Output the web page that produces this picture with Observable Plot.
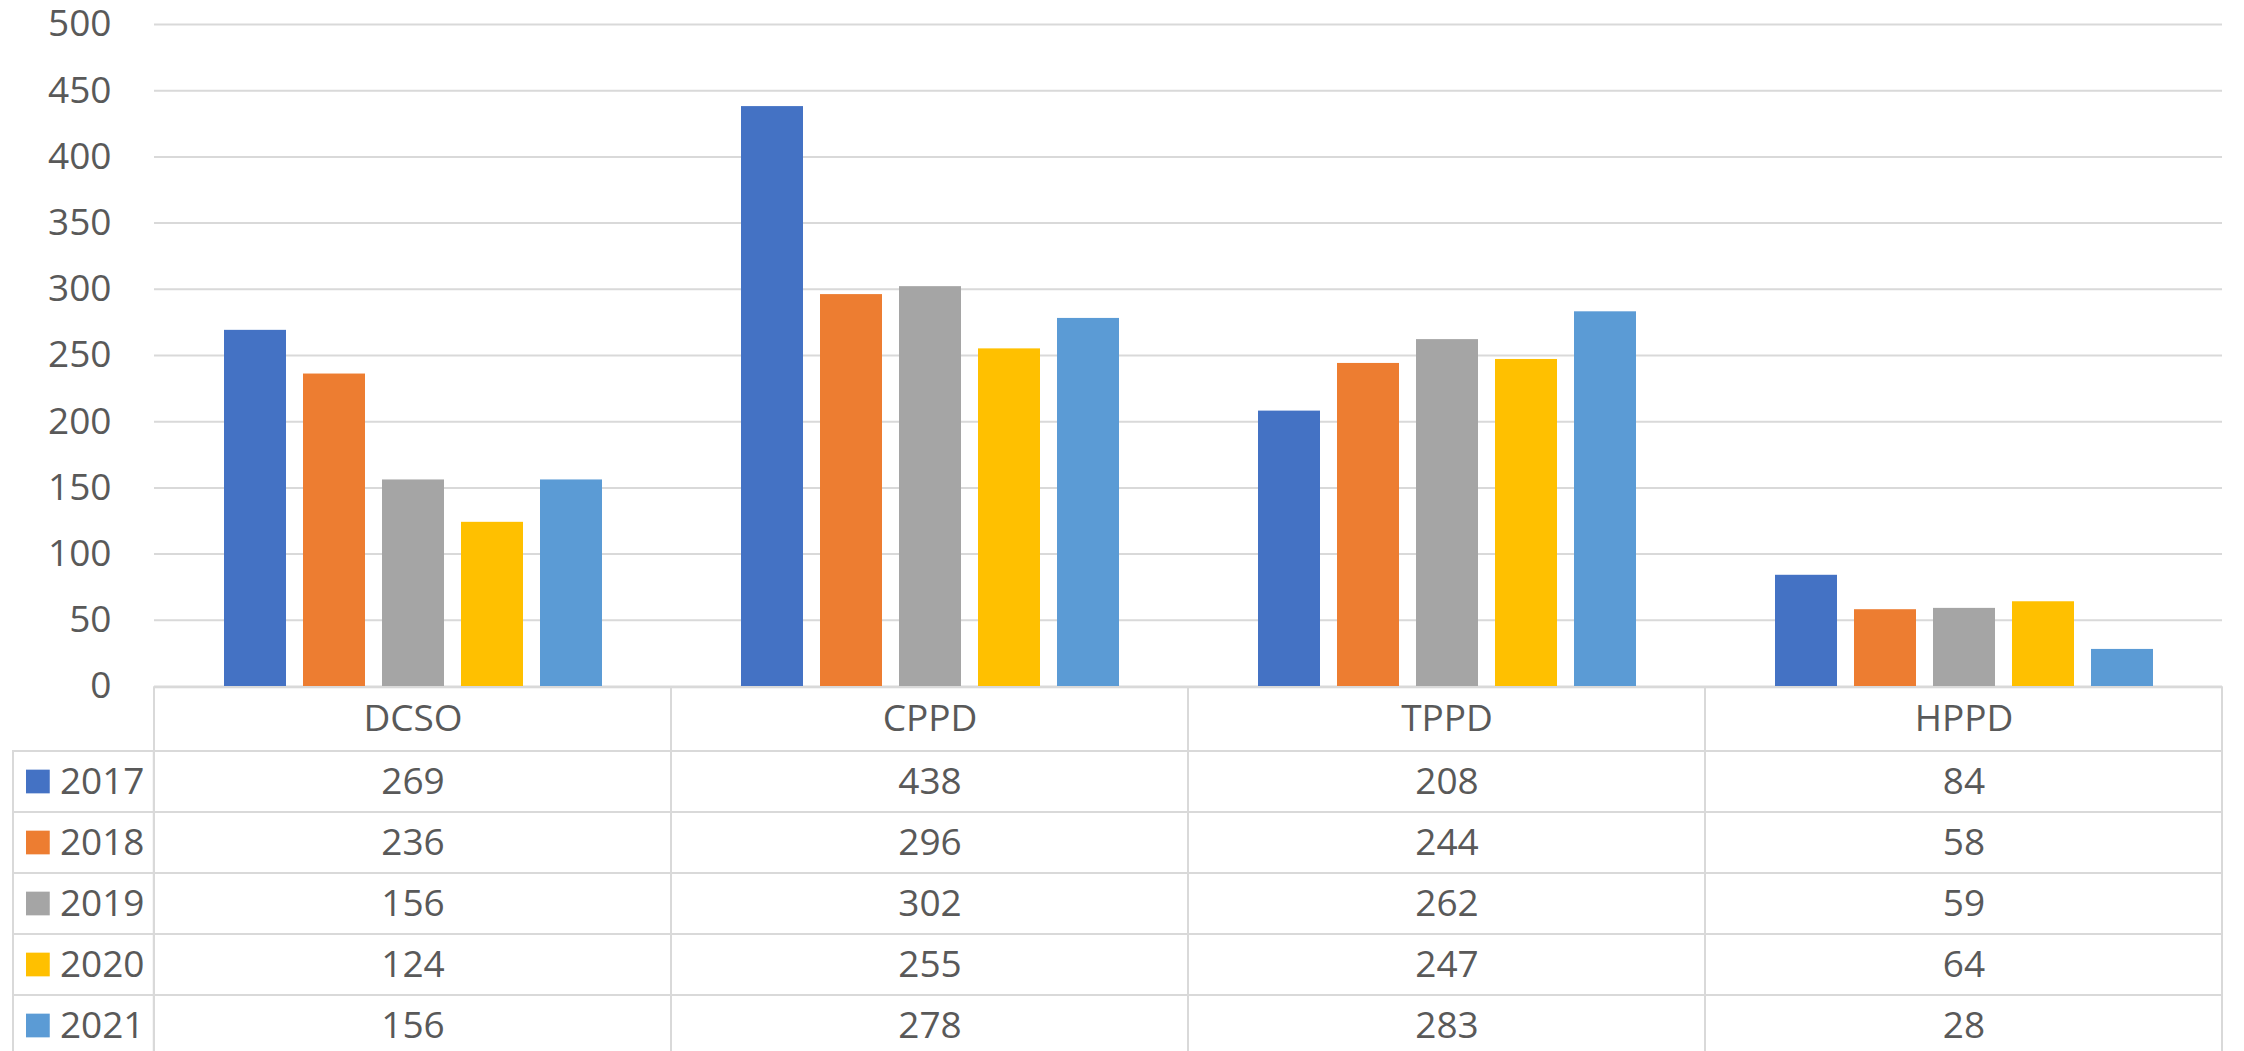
<!DOCTYPE html>
<html><head><meta charset="utf-8">
<script src="https://cdn.jsdelivr.net/npm/d3@7"></script>
<script src="https://cdn.jsdelivr.net/npm/@observablehq/plot@0.6"></script>
<style>
html,body{margin:0;padding:0;background:#fff;overflow:hidden}
#chart svg{display:block;overflow:visible}
</style></head><body><div id="chart"></div>
<script>
const categories = ["DCSO", "CPPD", "TPPD", "HPPD"];
const years = ["2017", "2018", "2019", "2020", "2021"];
const values2017 = [269, 438, 208, 84];
const values2018 = [236, 296, 244, 58];
const values2019 = [156, 302, 262, 59];
const values2020 = [124, 255, 247, 64];
const values2021 = [156, 278, 283, 28];
const yearColors = ["#4472C4", "#ED7D31", "#A5A5A5", "#FFC000", "#5B9BD5"];
const yTicks = [0, 50, 100, 150, 200, 250, 300, 350, 400, 450, 500];

const series = [values2017, values2018, values2019, values2020, values2021];
const data = years.flatMap((yr, i) => categories.map((c, j) => ({category: c, year: yr, value: series[i][j]})));
const rows = ["head", ...years];

const W = 2244, ML = 153, MR = 22;
const BW = (W - ML - MR) / categories.length;
const FONT = "'Open Sans', 'Noto Sans', sans-serif", FS = 37, TXT = "#595959", LINE = "#d9d9d9";
const RH = 61.3, HEAD_EXTRA = 2.7;
const LEG_LEFT = 12, SW_LEFT = 25, SW = 24;

const chart = Plot.plot({
  width: W, height: 686, marginTop: 24, marginBottom: 0, marginLeft: ML, marginRight: MR,
  style: {fontFamily: FONT, fontSize: FS + "px", color: TXT, background: "none", overflow: "visible"},
  fx: {domain: categories, padding: 0, axis: null},
  x: {domain: years, paddingInner: 0.22, paddingOuter: 0.863, axis: null},
  y: {domain: [0, 500], axis: null},
  color: {domain: years, range: yearColors},
  marks: [
    Plot.gridY(yTicks, {stroke: LINE, strokeOpacity: 1, strokeWidth: 2}),
    Plot.axisY({ticks: yTicks, tickSize: 0, tickPadding: 43, fontSize: FS, fill: TXT, label: null}),
    Plot.barY(data, {fx: "category", x: "year", y: "value", fill: "year"})
  ]
});

const table = Plot.plot({
  width: W, height: HEAD_EXTRA + RH * rows.length, marginTop: HEAD_EXTRA, marginBottom: 0, marginLeft: ML, marginRight: MR,
  style: {fontFamily: FONT, fontSize: FS + "px", color: TXT, background: "none", overflow: "visible"},
  x: {domain: categories, padding: 0, axis: null},
  y: {domain: rows, padding: 0, axis: null},
  color: {domain: years, range: yearColors},
  marks: [
    Plot.cell(years, {x: () => categories[0], y: d => d, insetLeft: -(ML - LEG_LEFT), insetRight: BW, stroke: LINE, strokeWidth: 2, fill: "none"}),
    Plot.cell(categories, {x: d => d, y: () => "head", insetTop: -HEAD_EXTRA, stroke: LINE, strokeWidth: 2, fill: "none"}),
    Plot.cell(data, {x: "category", y: "year", stroke: LINE, strokeWidth: 2, fill: "none"}),
    Plot.cell(years, {x: () => categories[0], y: d => d, fill: d => d,
      insetLeft: -(ML - SW_LEFT), insetRight: BW + (ML - SW_LEFT - SW), insetTop: (RH - SW) / 2, insetBottom: (RH - SW) / 2}),
    Plot.axisY({ticks: years, tickSize: 0, tickPadding: 9, fontSize: FS, fill: TXT, label: null}),
    Plot.text(categories, {x: d => d, y: () => "head", text: d => d, fontSize: FS, fill: TXT, dy: -HEAD_EXTRA / 2}),
    Plot.text(data, {x: "category", y: "year", text: d => String(d.value), fontSize: FS, fill: TXT})
  ]
});

document.getElementById("chart").append(chart, table);
</script></body></html>
